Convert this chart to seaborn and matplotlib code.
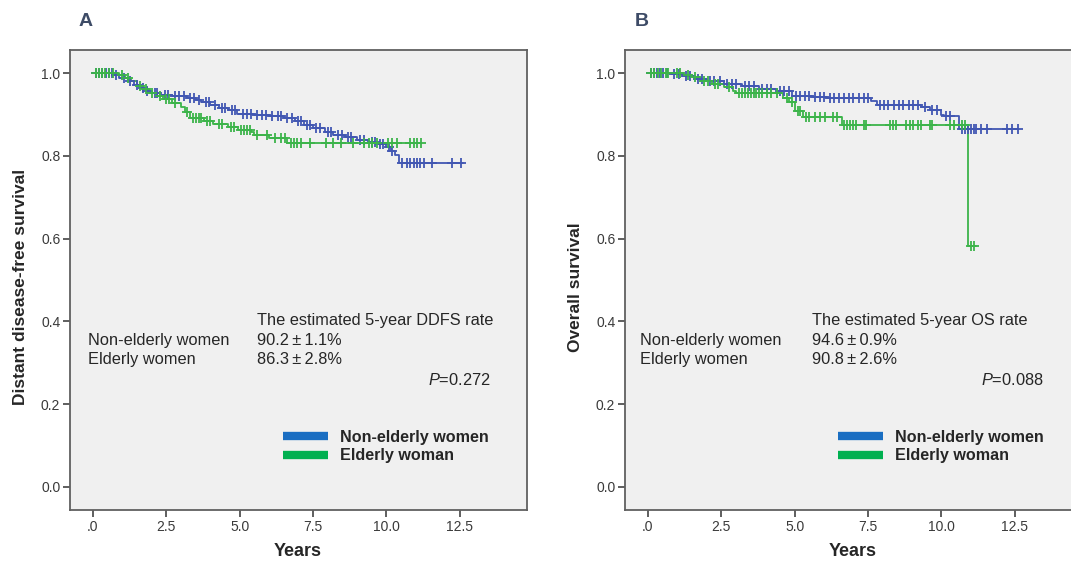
import numpy as np
import pandas as pd
import seaborn as sns
import matplotlib.pyplot as plt
from matplotlib.lines import Line2D

# ---- data ----
# Panel A: distant disease-free survival (step times / survival after step)
a_young_t = [0, 0.7, 0.9, 1.2, 1.4, 1.6, 1.8, 2.0, 2.3, 2.7, 3.2, 3.5, 3.7, 4.0, 4.3, 4.6,
             4.9, 5.5, 6.0, 6.5, 6.9, 7.2, 7.5, 7.9, 8.2, 8.6, 9.0, 9.4, 9.7, 10.0, 10.15,
             10.3, 10.45, 12.6]
a_young_s = [1.0, 0.995, 0.988, 0.980, 0.972, 0.964, 0.958, 0.953, 0.948, 0.944, 0.940,
             0.935, 0.930, 0.922, 0.916, 0.911, 0.902, 0.899, 0.896, 0.891, 0.884, 0.876,
             0.868, 0.858, 0.850, 0.845, 0.839, 0.833, 0.828, 0.822, 0.812, 0.803, 0.783, 0.783]
a_young_cens = [0.1, 0.2, 0.3, 0.45, 0.55, 0.65, 0.8, 1.05, 1.25, 1.5, 1.7, 1.85, 2.1, 2.2,
                2.45, 2.55, 2.8, 2.95, 3.1, 3.3, 3.45, 3.6, 3.85, 3.95, 4.15, 4.4, 4.5, 4.75,
                4.85, 5.1, 5.25, 5.4, 5.6, 5.75, 5.9, 6.1, 6.3, 6.4, 6.6, 6.8, 7.0, 7.1, 7.3,
                7.4, 7.6, 7.75, 8.0, 8.1, 8.35, 8.5, 8.7, 8.8, 9.1, 9.25, 9.5, 9.6, 9.8, 9.9,
                10.1, 10.2, 10.55, 10.7, 10.8, 10.95, 11.05, 11.15, 11.3, 11.55, 12.25, 12.55]
a_old_t = [0, 0.9, 1.1, 1.3, 1.5, 1.7, 1.9, 2.2, 2.4, 2.7, 3.0, 3.15, 3.3, 3.8, 4.1, 4.6,
           4.95, 5.4, 5.5, 6.0, 6.6, 11.2]
a_old_s = [1.0, 0.995, 0.988, 0.980, 0.970, 0.962, 0.953, 0.945, 0.937, 0.928, 0.918, 0.907,
           0.892, 0.885, 0.877, 0.871, 0.863, 0.858, 0.850, 0.844, 0.832, 0.832]
a_old_cens = [0.1, 0.2, 0.3, 0.4, 0.55, 0.7, 1.0, 1.2, 1.6, 1.8, 2.0, 2.3, 2.5, 2.6, 2.8,
              3.2, 3.4, 3.5, 3.6, 3.7, 3.9, 4.0, 4.3, 4.4, 4.7, 4.8, 5.05, 5.15, 5.25, 5.35,
              5.6, 5.95, 6.2, 6.4, 6.55, 6.75, 6.85, 6.95, 7.1, 7.4, 7.95, 8.2, 8.45, 8.85,
              9.25, 9.4, 9.5, 9.7, 10.05, 10.2, 10.35, 10.8, 10.95, 11.05, 11.2]

# Panel B: overall survival
b_young_t = [0, 0.8, 1.2, 1.6, 2.0, 2.6, 3.2, 3.8, 4.4, 4.9, 5.6, 6.1, 7.6, 7.8, 9.3, 9.6,
             10.0, 10.1, 10.6, 12.6]
b_young_s = [1.0, 0.997, 0.993, 0.985, 0.980, 0.975, 0.970, 0.963, 0.957, 0.946, 0.943,
             0.939, 0.932, 0.924, 0.919, 0.911, 0.900, 0.897, 0.866, 0.866]
b_young_cens = [0.1, 0.2, 0.3, 0.4, 0.5, 0.65, 0.9, 1.05, 1.3, 1.45, 1.7, 1.85, 2.1, 2.25,
                2.45, 2.7, 2.85, 3.0, 3.3, 3.45, 3.6, 3.9, 4.05, 4.2, 4.5, 4.65, 4.8, 5.05,
                5.2, 5.35, 5.5, 5.7, 5.85, 6.0, 6.2, 6.35, 6.5, 6.7, 6.85, 7.0, 7.2, 7.35,
                7.5, 7.9, 8.05, 8.2, 8.4, 8.55, 8.7, 8.9, 9.05, 9.2, 9.45, 9.7, 9.85, 10.15,
                10.3, 10.7, 10.8, 10.9, 11.0, 11.1, 11.2, 11.35, 11.55, 12.25, 12.4, 12.6]
b_old_t = [0, 1.2, 1.5, 1.8, 2.2, 2.6, 2.9, 3.0, 4.6, 4.8, 5.0, 5.3, 6.6, 10.92, 11.2]
b_old_s = [1.0, 0.995, 0.990, 0.981, 0.973, 0.966, 0.958, 0.951, 0.940, 0.930, 0.908,
           0.895, 0.874, 0.583, 0.583]
b_old_cens = [0.1, 0.2, 0.35, 0.45, 0.6, 0.7, 1.0, 1.1, 1.35, 1.6, 1.9, 2.05, 2.3, 2.4,
              2.75, 3.1, 3.2, 3.3, 3.4, 3.5, 3.6, 3.7, 3.8, 3.9, 4.05, 4.2, 4.4, 4.75, 4.9,
              5.1, 5.2, 5.4, 5.5, 5.7, 5.85, 6.05, 6.3, 6.45, 6.7, 6.8, 6.9, 7.0, 7.1, 7.35,
              7.45, 8.25, 8.35, 8.45, 8.8, 8.95, 9.05, 9.2, 9.3, 9.6, 9.7, 10.3, 10.45, 10.7,
              10.8, 11.0, 11.1]

xtick_vals = [0, 2.5, 5.0, 7.5, 10.0, 12.5]
xtick_labels = ['.0', '2.5', '5.0', '7.5', '10.0', '12.5']
ytick_vals = [0.0, 0.2, 0.4, 0.6, 0.8, 1.0]
ytick_labels = ['0.0', '0.2', '0.4', '0.6', '0.8', '1.0']

groups = ['Non-elderly women', 'Elderly women']
legend_labels = ['Non-elderly women', 'Elderly woman']
a_rates = ['90.2\u2009\u00b1\u20091.1%', '86.3\u2009\u00b1\u20092.8%']
b_rates = ['94.6\u2009\u00b1\u20090.9%', '90.8\u2009\u00b1\u20092.6%']

line_blue = '#4257b2'
line_green = '#3cb44a'
leg_blue = '#1a6ec2'
leg_green = '#00b050'

sns.set_style("ticks")
plt.rcParams['font.family'] = ['Liberation Sans', 'DejaVu Sans']
plt.rcParams['mathtext.fontset'] = 'custom'
plt.rcParams['mathtext.rm'] = 'Liberation Sans'
plt.rcParams['mathtext.it'] = 'Liberation Sans:italic'


def draw_km(ax, t, s, cens, color):
    t = np.asarray(t)
    s = np.asarray(s)
    df = pd.DataFrame({'time': t, 'surv': s})
    sns.lineplot(data=df, x='time', y='surv', drawstyle='steps-post', color=color,
                 lw=1.3, ax=ax, legend=False, errorbar=None)
    c = np.asarray(cens)
    idx = np.searchsorted(t, c, side='right') - 1
    cdf = pd.DataFrame({'time': c, 'surv': s[idx]})
    sns.scatterplot(data=cdf, x='time', y='surv', marker='+', color=color, s=45,
                    linewidth=1.3, ax=ax, legend=False, zorder=3)


def style_axes(ax, ylabel):
    ax.set_facecolor('#f0f0f0')
    ax.set_xlim(-0.78, 14.8)
    ax.set_ylim(-0.056, 1.056)
    ax.set_xticks(xtick_vals)
    ax.set_xticklabels(xtick_labels)
    ax.set_yticks(ytick_vals)
    ax.set_yticklabels(ytick_labels)
    for sp in ax.spines.values():
        sp.set_visible(True)
        sp.set_color('#606060')
        sp.set_linewidth(1.3)
    ax.tick_params(length=5, width=1.1, color='#333333', labelsize=10,
                   labelcolor='#3a3a3a', pad=2)
    ax.set_xlabel('Years', fontsize=13, fontweight='bold')
    ax.set_ylabel(ylabel, fontsize=12.5, fontweight='bold')
    ax.xaxis.set_label_coords(0.497, -0.072)
    ax.yaxis.set_label_coords(-0.092, 0.485)


def annotate(ax, title, rates, pval, x_left, x_right):
    fs = 11.8
    ax.text(5.6, 0.403, title, fontsize=fs, va='center', ha='left')
    ax.text(x_left, 0.355, groups[0], fontsize=fs, va='center', ha='left')
    ax.text(x_left, 0.309, groups[1], fontsize=fs, va='center', ha='left')
    ax.text(5.6, 0.355, rates[0], fontsize=fs, va='center', ha='left')
    ax.text(5.6, 0.309, rates[1], fontsize=fs, va='center', ha='left')
    ax.text(x_right, 0.258, r'$\mathit{P}$=' + pval, fontsize=fs, va='center', ha='right')
    handles = [Line2D([], [], color=leg_blue, lw=6, solid_capstyle='butt'),
               Line2D([], [], color=leg_green, lw=6, solid_capstyle='butt')]
    ax.legend(handles, legend_labels, loc='upper left', bbox_to_anchor=(0.4485, 0.1915),
              frameon=False, borderpad=0, handlelength=2.8, handletextpad=0.73,
              labelspacing=0.2, prop={'weight': 'bold', 'size': 11.6})


fig = plt.figure(figsize=(10.71, 5.63), dpi=100)
axA = fig.add_axes([0.0654, 0.0941, 0.4267, 0.817])
axB = fig.add_axes([0.5836, 0.0941, 0.4267, 0.817])

draw_km(axA, a_young_t, a_young_s, a_young_cens, line_blue)
draw_km(axA, a_old_t, a_old_s, a_old_cens, line_green)
draw_km(axB, b_young_t, b_young_s, b_young_cens, line_blue)
draw_km(axB, b_old_t, b_old_s, b_old_cens, line_green)

style_axes(axA, 'Distant disease-free survival')
style_axes(axB, 'Overall survival')

annotate(axA, 'The estimated 5-year DDFS rate', a_rates, '0.272', -0.17, 13.55)
annotate(axB, 'The estimated 5-year OS rate', b_rates, '0.088', -0.27, 13.5)

fig.text(79 / 1071, 1 - 22 / 563, 'A', fontsize=14, fontweight='bold', color='#3d4b66',
         va='center', ha='left')
fig.text(635 / 1071, 1 - 22 / 563, 'B', fontsize=14, fontweight='bold', color='#3d4b66',
         va='center', ha='left')

fig.savefig('out.png', dpi=100)
